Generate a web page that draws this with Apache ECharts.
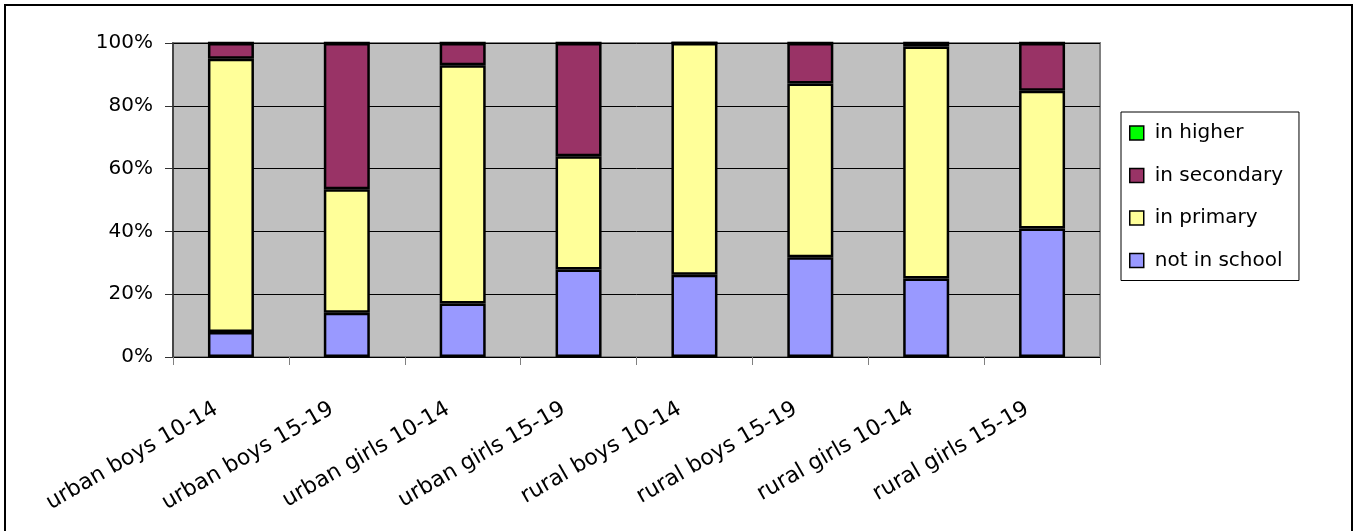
<!DOCTYPE html>
<html>
<head>
<meta charset="utf-8">
<script src="https://cdn.jsdelivr.net/npm/echarts@6/dist/echarts.min.js"></script>
<style>
  html, body { margin: 0; padding: 0; background: #fff; }
  #chart { width: 1354px; height: 531px; }
</style>
</head>
<body>
<div id="chart"></div>
<script>
// School attendance by group (percent of each group)
const categories = [
  'urban boys 10-14', 'urban boys 15-19', 'urban girls 10-14', 'urban girls 15-19',
  'rural boys 10-14', 'rural boys 15-19', 'rural girls 10-14', 'rural girls 15-19'
];
const notInSchool = [8.0, 14.1, 17.0, 27.9, 26.2, 31.8, 25.0, 40.9];
const inPrimary   = [87.0, 39.3, 75.9, 36.0, 73.8, 55.3, 73.9, 43.9];
const inSecondary = [5.0, 46.6, 7.1, 36.1, 0.0, 12.9, 1.1, 15.2];
const inHigher    = [0, 0, 0, 0, 0, 0, 0, 0];
const yTicks = [0, 20, 40, 60, 80, 100];

const FONT = 'DejaVu Sans';
const chart = echarts.init(document.getElementById('chart'));

function barSeries(name, data, color) {
  return {
    name: name,
    type: 'bar',
    stack: 'total',
    data: data,
    barWidth: 46,
    itemStyle: { color: color, borderColor: '#000', borderWidth: 2.5 },
    emphasis: { disabled: true }
  };
}

chart.setOption({
  animation: false,
  textStyle: { fontFamily: FONT },
  graphic: [
    {
      type: 'rect',
      shape: { x: 5, y: 5, width: 1347, height: 540 },
      style: { fill: 'none', stroke: '#000', lineWidth: 2 },
      silent: true
    }
  ],
  grid: {
    left: 173, top: 43, width: 927, height: 314,
    show: true, backgroundColor: '#C0C0C0',
    borderColor: '#808080', borderWidth: 2
  },
  legend: {
    orient: 'vertical',
    left: 1121, top: 112,
    padding: [9, 16, 8, 8],
    itemGap: 18.5,
    itemWidth: 14, itemHeight: 14,
    borderColor: '#000', borderWidth: 1,
    backgroundColor: '#fff',
    icon: 'rect',
    itemStyle: { borderColor: '#000', borderWidth: 1.5 },
    textStyle: { fontFamily: FONT, fontSize: 20, lineHeight: 24, color: '#000', padding: [0, 0, 0, 6] },
    data: ['in higher', 'in secondary', 'in primary', 'not in school']
  },
  xAxis: {
    type: 'category',
    data: categories,
    axisLine: { show: true, lineStyle: { color: '#000', width: 1 } },
    axisTick: { show: true, inside: false, length: 8, alignWithLabel: false, lineStyle: { color: '#808080' } },
    axisLabel: {
      rotate: 30, interval: 0, margin: 42,
      fontFamily: FONT, fontSize: 22, color: '#000',
      padding: [0, 17, 0, 0]
    },
    splitLine: { show: false }
  },
  yAxis: {
    type: 'value',
    min: yTicks[0], max: yTicks[yTicks.length - 1], interval: 20,
    axisLine: { show: true, lineStyle: { color: '#333', width: 1.5 } },
    axisTick: { show: true, inside: false, length: 8, lineStyle: { color: '#333' } },
    axisLabel: {
      margin: 20, fontFamily: FONT, fontSize: 20, color: '#000',
      formatter: v => v + '%'
    },
    splitLine: { show: true, lineStyle: { color: '#000', width: 1 } }
  },
  series: [
    barSeries('not in school', notInSchool, '#9999FF'),
    barSeries('in primary', inPrimary, '#FFFF99'),
    barSeries('in secondary', inSecondary, '#993366'),
    barSeries('in higher', inHigher, '#00FF00')
  ]
});
</script>
</body>
</html>
